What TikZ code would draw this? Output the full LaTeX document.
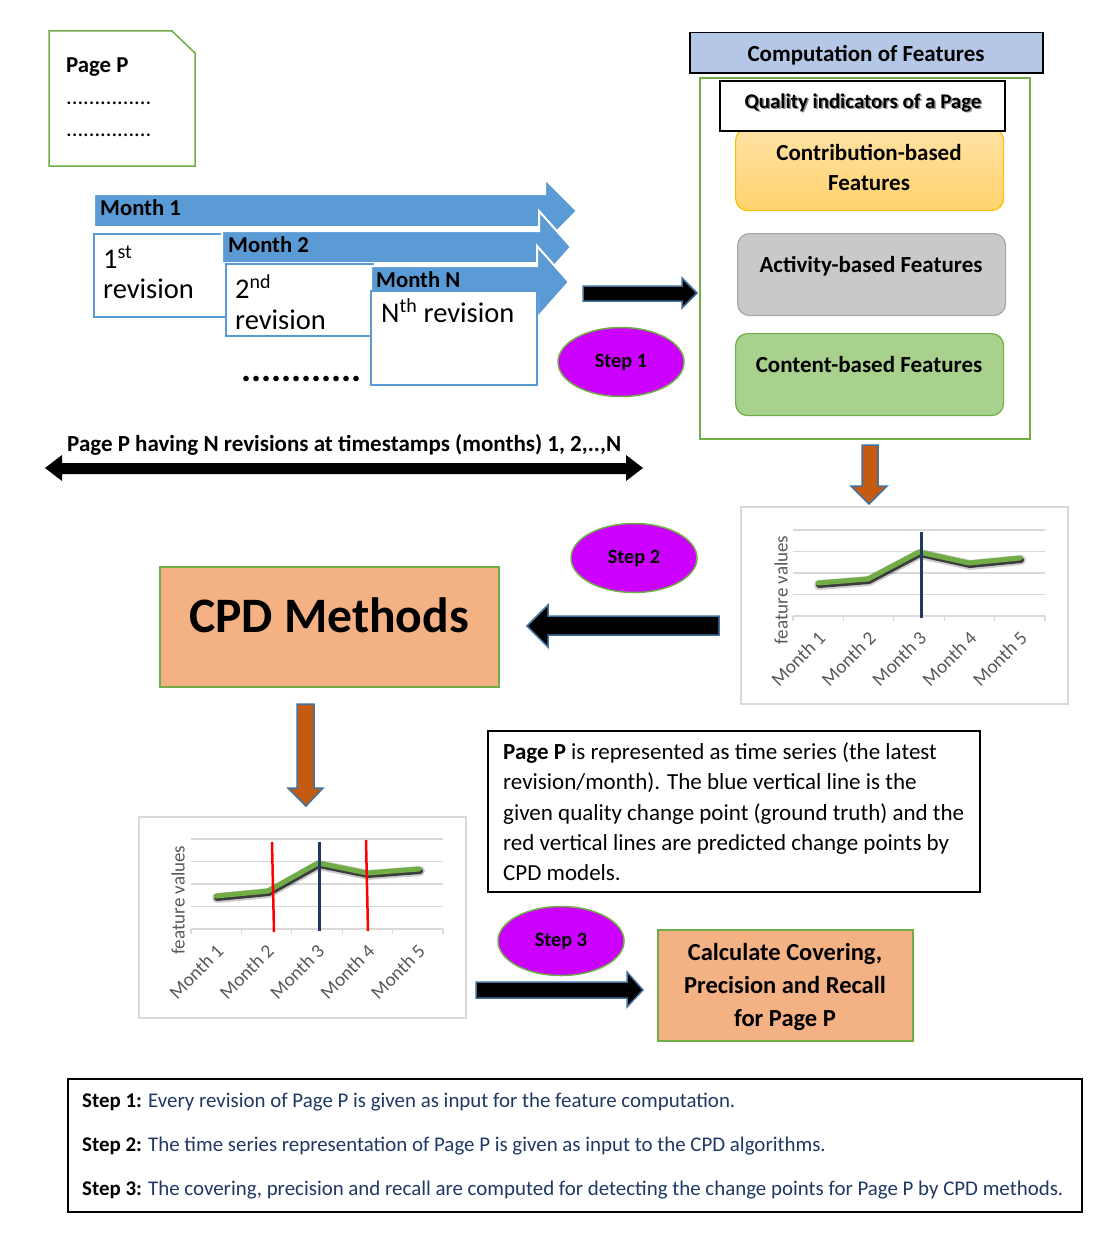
\documentclass[tikz,border=0pt]{standalone}
\usepackage{fontspec}
\setmainfont{Carlito}
\usetikzlibrary{shapes.geometric}
\definecolor{barblue}{HTML}{5B9BD5}
\definecolor{docgreen}{HTML}{70AD47}
\definecolor{steppurple}{HTML}{CC00FF}
\definecolor{boxorange}{HTML}{F4B183}
\definecolor{arroworange}{HTML}{C55A11}
\definecolor{arrowedge}{HTML}{41719C}
\definecolor{headblue}{HTML}{B4C7E7}
\definecolor{contribtop}{HTML}{FFE2A3}
\definecolor{contribbot}{HTML}{FFD26E}
\definecolor{contribedge}{HTML}{FFC000}
\definecolor{actfill}{HTML}{C9C9C9}
\definecolor{actedge}{HTML}{A6A6A6}
\definecolor{contfill}{HTML}{A9D18E}
\definecolor{navytext}{HTML}{1F3864}
\definecolor{gridgray}{HTML}{D9D9D9}
\definecolor{lblgray}{HTML}{595959}
\definecolor{cpnavy}{HTML}{203864}
\newcommand{\fsz}[1]{\fontsize{#1}{#1}\selectfont}
\begin{document}
\begin{tikzpicture}[x=1pt,y=-1pt,
  txt/.style={inner sep=0pt, anchor=base west},
  ctxt/.style={inner sep=0pt, anchor=base},
  bandarrow/.style={fill=barblue, draw=white, line width=2pt},
  revbox/.style={draw=barblue, line width=1.5pt, fill=white},
  blackarrow/.style={fill=black, draw=arrowedge, line width=1.5pt},
  orangearrow/.style={fill=arroworange, draw=arrowedge, line width=1.5pt},
  stepoval/.style={ellipse, fill=steppurple, draw=docgreen, line width=1.5pt, minimum width=126pt, minimum height=69pt, inner sep=0pt, font=\fsz{20.3}\bfseries},
  featbox/.style={rounded corners=12pt, line width=1.2pt, minimum width=268pt, minimum height=82pt, anchor=north west, inner sep=0pt},
  featfont/.style={font=\fsz{23}\bfseries},
  gridl/.style={draw=gridgray, line width=1.2pt},
  monthlbl/.style={inner sep=0pt, anchor=north east, rotate=45, text=lblgray, font=\fsz{19.3}},
  ylbl/.style={inner sep=0pt, rotate=90, text=lblgray, font=\fsz{19}},
  chartframe/.style={draw=gridgray, line width=1.5pt, fill=white},
  orangebox/.style={fill=boxorange, draw=docgreen, line width=1.5pt, anchor=north west, inner sep=0pt},
  shadowblur/.style={black, opacity=0.2, line width=10pt, line join=round, line cap=round},
  shadowcore/.style={black, opacity=0.7, line width=6pt, line join=round, line cap=round},
  dataline/.style={docgreen, line width=5pt, line join=round, line cap=round}
]
\useasboundingbox (0,0) rectangle (1109,1239);
\fill[white] (0,0) rectangle (1109,1239);

% ---------- Page P document ----------
\draw[docgreen, line width=1.5pt, fill=white] (49,31) -- (172,31) -- (195,53) -- (195,166) -- (49,166) -- cycle;
\node[txt, font=\fsz{22.8}\bfseries] (pagep) at (66,72) {Page P};
\node[txt, font=\fsz{22.5}] (dots1) at (66,104) {...............};
\node[txt, font=\fsz{22.5}] (dots2) at (66,136) {...............};

% ---------- Month arrows ----------
\draw[bandarrow] (94,194) -- (545,194) -- (545,179) -- (577,211) -- (545,243) -- (545,227) -- (94,227) -- cycle;
\node[txt, font=\fsz{22.7}\bfseries] (m1) at (100,215) {Month 1};
\draw[revbox] (94,234) rectangle (228,317);
\node[txt, font=\fsz{28.5}] (r1a) at (103,268) {1\textsuperscript{st}};
\node[txt, font=\fsz{28.5}] (r1b) at (103,298) {revision};

\draw[bandarrow] (222,231) -- (539,231) -- (539,211) -- (571,247) -- (539,283) -- (539,263) -- (222,263) -- cycle;
\node[txt, font=\fsz{22.7}\bfseries] (m2) at (228,252) {Month 2};
\draw[revbox] (226,264) rectangle (373,336);
\node[txt, font=\fsz{28.5}] (r2a) at (235,298) {2\textsuperscript{nd}};
\node[txt, font=\fsz{28.5}] (r2b) at (235,329) {revision};

\draw[bandarrow] (371,266) -- (537,266) -- (537,246) -- (569,282) -- (537,318) -- (537,298) -- (371,298) -- cycle;
\node[txt, font=\fsz{22.7}\bfseries] (mn) at (376,287) {Month N};
\draw[revbox] (371,291) rectangle (537,385);
\node[txt, font=\fsz{28.5}] (rn) at (381,322) {N\textsuperscript{th} revision};

\node[txt, font=\fsz{37.5}\bfseries] (bigdots) at (241,381) {............};

% ---------- Step 1 ----------
\draw[blackarrow] (583,286) -- (682,286) -- (682,278) -- (697,293) -- (682,308) -- (682,301) -- (583,301) -- cycle;
\node[stepoval] (step1) at (621,362) {Step 1};

% ---------- Computation of features ----------
\node[draw=black, line width=1.5pt, fill=headblue, minimum width=353pt, minimum height=40pt, anchor=north west, inner sep=0pt] (head) at (689,32) {};
\node[ctxt, font=\fsz{23}\bfseries] (headt) at (866,62) {Computation of Features};
\node[draw=docgreen, line width=1.5pt, minimum width=330pt, minimum height=361pt, anchor=north west, inner sep=0pt] (outer) at (699,77) {};
\node[featbox, draw=contribedge, top color=contribtop, bottom color=contribbot] (contrib) at (735,128) {};
\node[draw=black, line width=2pt, fill=white, minimum width=285pt, minimum height=50pt, anchor=north west, inner sep=0pt] (qual) at (719,80) {};
\node[ctxt, font=\fsz{20.9}\bfseries, text=black!45] at (864.5,109.5) {Quality indicators of a Page};
\node[ctxt, font=\fsz{20.9}\bfseries] (qualt) at (863,108) {Quality indicators of a Page};
\node[ctxt, featfont] (contribt1) at (869,160) {Contribution-based};
\node[ctxt, featfont] (contribt2) at (869,190) {Features};
\node[featbox, draw=actedge, fill=actfill] (act) at (737,233) {};
\node[ctxt, featfont] (actt) at (871,272) {Activity-based Features};
\node[featbox, draw=docgreen, fill=contfill] (cont) at (735,333) {};
\node[ctxt, featfont] (contt) at (869,372) {Content-based Features};

% ---------- double arrow ----------
\node[txt, font=\fsz{23}\bfseries] (timeline) at (67,451) {Page P having N revisions at timestamps (months) 1, 2,..,N};
\fill[black] (45,468) -- (62,455) -- (62,463) -- (626,463) -- (626,455) -- (643,468) -- (626,481) -- (626,474) -- (62,474) -- (62,481) -- cycle;

% ---------- orange arrow 1 ----------
\draw[orangearrow] (862,445) -- (878,445) -- (878,486) -- (887,486) -- (869,504) -- (851,486) -- (862,486) -- cycle;

% ---------- chart 1 ----------
\draw[chartframe] (741,507) rectangle (1068,704);
\begin{scope}[shift={(793,616)}]
  \foreach \g in {21.5,43,64.5,86} \draw[gridl] (0,-\g) -- (252,-\g);
  \draw[gridl] (0,0) -- (252,0);
  \foreach \t in {0,50.4,100.8,151.2,201.6,252} \draw[gridl] (\t,0) -- (\t,5);
  \draw[shadowblur] (26,-31) -- (76,-35) -- (127,-62) -- (177,-51) -- (228,-56);
  \draw[shadowcore] (26,-31) -- (76,-35) -- (127,-62) -- (177,-51) -- (228,-56);
  \draw[dataline] (25,-33) -- (75,-37) -- (126,-64) -- (176,-53) -- (227,-58);
  \draw[cpnavy, line width=3pt] (128,-84) -- (128,2);
  \foreach \i in {1,...,5} \node[monthlbl] (ca\i) at ({50.4*\i-25.2-1},14) {Month \i};
  \node[ylbl] (cay) at (-12,-26) {feature values};
\end{scope}

% ---------- Step 2 ----------
\node[stepoval] (step2) at (634,558) {Step 2};
\draw[blackarrow] (527,626) -- (548,605) -- (548,616) -- (719,616) -- (719,635) -- (548,635) -- (548,647) -- cycle;

% ---------- CPD methods ----------
\node[orangebox, minimum width=339pt, minimum height=120pt] (cpd) at (159,566) {};
\node[ctxt, font=\fsz{49.6}\bfseries] (cpdt) at (329,632) {CPD Methods};

% ---------- orange arrow 2 ----------
\draw[orangearrow] (297,704) -- (314,704) -- (314,788) -- (323,788) -- (306,806) -- (288,788) -- (297,788) -- cycle;

% ---------- description box ----------
\node[draw=black, line width=2pt, minimum width=492pt, minimum height=161pt, anchor=north west, inner sep=0pt] (desc) at (487,730) {};
\node[txt, font=\fsz{23}] (d1) at (503,759) {\textbf{Page P} is represented as time series (the latest};
\node[txt, font=\fsz{23}] (d2) at (503,789) {revision/month). The blue vertical line is the};
\node[txt, font=\fsz{23}] (d3) at (503,820) {given quality change point (ground truth) and the};
\node[txt, font=\fsz{23}] (d4) at (503,850) {red vertical lines are predicted change points by};
\node[txt, font=\fsz{23}] (d5) at (503,880) {CPD models.};

% ---------- chart 2 ----------
\draw[chartframe] (139,817) rectangle (466,1018);
\begin{scope}[shift={(191,929)}]
  \foreach \g in {22.5,45,67.5,90} \draw[gridl] (0,-\g) -- (252,-\g);
  \draw[gridl] (0,0) -- (252,0);
  \foreach \t in {0,50.4,100.8,151.2,201.6,252} \draw[gridl] (\t,0) -- (\t,5);
  \draw[shadowblur] (26,-31) -- (78,-36) -- (128,-64) -- (177,-54) -- (229,-58);
  \draw[shadowcore] (26,-31) -- (78,-36) -- (128,-64) -- (177,-54) -- (229,-58);
  \draw[dataline] (25,-33) -- (77,-38) -- (127,-66) -- (176,-56) -- (228,-60);
  \draw[red, line width=2.5pt] (81,-87) -- (83,3);
  \draw[cpnavy, line width=3pt] (128,-87) -- (128,2);
  \draw[red, line width=2.5pt] (175,-89) -- (177,2);
  \foreach \i in {1,...,5} \node[monthlbl] (cb\i) at ({50.4*\i-25.2-1},14) {Month \i};
  \node[ylbl] (cby) at (-13,-29) {feature values};
\end{scope}

% ---------- Step 3 ----------
\node[stepoval] (step3) at (561,941) {Step 3};
\draw[blackarrow] (476,982) -- (627,982) -- (627,972) -- (643,990) -- (627,1007) -- (627,998) -- (476,998) -- cycle;
\node[orangebox, minimum width=255pt, minimum height=111pt] (calc) at (657,929) {};
\node[ctxt, font=\fsz{24.5}\bfseries] (calc1) at (785,960) {Calculate Covering,};
\node[ctxt, font=\fsz{24.5}\bfseries] (calc2) at (785,993) {Precision and Recall};
\node[ctxt, font=\fsz{24.5}\bfseries] (calc3) at (785,1026) {for Page P};

% ---------- legend box ----------
\node[draw=black, line width=1.5pt, minimum width=1014pt, minimum height=133pt, anchor=north west, inner sep=0pt] (legend) at (67,1078) {};
\node[txt, font=\fsz{20.9}] (l1) at (82,1107) {\textbf{Step 1:} \textcolor{navytext}{Every revision of Page P is given as input for the feature computation.}};
\node[txt, font=\fsz{20.9}] (l2) at (82,1151) {\textbf{Step 2:} \textcolor{navytext}{The time series representation of Page P is given as input to the CPD algorithms.}};
\node[txt, font=\fsz{20.9}] (l3) at (82,1195) {\textbf{Step 3:} \textcolor{navytext}{The covering, precision and recall are computed for detecting the change points for Page P by CPD methods.}};
\end{tikzpicture}
\end{document}
